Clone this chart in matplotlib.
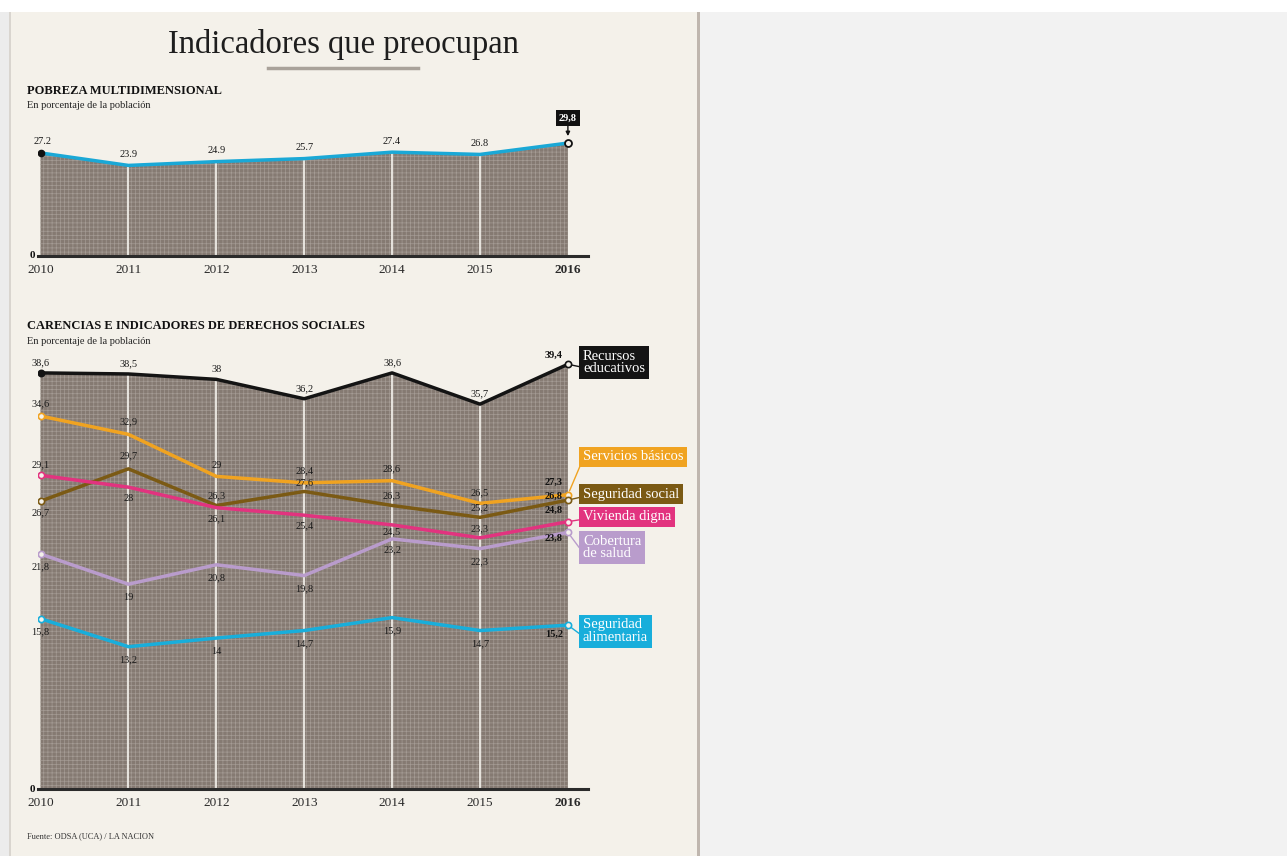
import numpy as np
import matplotlib.pyplot as plt
from matplotlib.patches import Rectangle
from matplotlib.lines import Line2D

plt.rcParams['font.family'] = ['Liberation Serif', 'DejaVu Serif']

# ---- data ----
years = [2010, 2011, 2012, 2013, 2014, 2015, 2016]
year_labels = ['2010', '2011', '2012', '2013', '2014', '2015', '2016']

pobreza = [27.2, 23.9, 24.9, 25.7, 27.4, 26.8, 29.8]

recursos_educativos = [38.6, 38.5, 38.0, 36.2, 38.6, 35.7, 39.4]
servicios_basicos = [34.6, 32.9, 29.0, 28.4, 28.6, 26.5, 27.3]
seguridad_social = [26.7, 29.7, 26.3, 27.6, 26.3, 25.2, 26.8]
vivienda_digna = [29.1, 28.0, 26.1, 25.4, 24.5, 23.3, 24.8]
cobertura_salud = [21.8, 19.0, 20.8, 19.8, 23.2, 22.3, 23.8]
seguridad_alimentaria = [15.8, 13.2, 14.0, 14.7, 15.9, 14.7, 15.2]

series_names = ['Recursos\neducativos', 'Servicios básicos', 'Seguridad social',
                'Vivienda digna', 'Cobertura\nde salud', 'Seguridad\nalimentaria']

# ---- styles / layout ----
W, H = 1287, 856
BEIGE = '#f4f1ea'
FILL = '#857a72'
HATCH = '#a49b94'
series = [recursos_educativos, servicios_basicos, seguridad_social,
          vivienda_digna, cobertura_salud, seguridad_alimentaria]
colors = ['#141414', '#f0a321', '#7b5a14', '#e2337f', '#b99ccc', '#18aedb']
# label offsets in pixels (positive = up), one per year 2010-2015
label_dy = [
    [10, 10, 10, 10, 10, 10],
    [12, 13, 11, 12, 12, 11],
    [-12, 13, 10, 9, 10, 10],
    [11, -11, -11, -11, -7, 9],
    [-13, -13, -13, -13, -11, -13],
    [-13, -13, -13, -13, -13, -13],
]
last_dy = [9, 12, 4, 11, -6, -9]     # bold 2016 value
box_dy = [2, 38, 6, 5, -15, -6]      # side label boxes

plt.rcParams['hatch.linewidth'] = 0.5


def fx(px):
    return px / W


def fy(py):
    return 1 - py / H


def rect(x0, y0, x1, y1, color):
    return Rectangle((fx(x0), fy(y1)), (x1 - x0) / W, (y1 - y0) / H,
                     transform=fig.transFigure, fc=color, ec='none', zorder=-10)


def fmt(v, sep=','):
    s = f'{v:.1f}'
    if s.endswith('.0'):
        s = s[:-2]
    return s.replace('.', sep)


fig = plt.figure(figsize=(W / 100, H / 100), dpi=100, facecolor='white')
fig.patches.extend([
    rect(0, 12, 9, H, '#ececec'),
    rect(9, 12, 11, H, '#d9d5cf'),
    rect(11, 12, 697, H, BEIGE),
    rect(697, 12, 700, H, '#bfb6ae'),
    rect(700, 12, W, H, '#f2f2f2'),
])

fig.text(fx(343), fy(44), 'Indicadores que preocupan', fontsize=23.5,
         ha='center', va='center', color='#1e1e1e')
fig.add_artist(Line2D([fx(268), fx(418)], [fy(68), fy(68)], lw=2.5,
                      color='#a9a29a', transform=fig.transFigure))

X_LEFT, X_RIGHT = 38, 588
X0, STEP = 40.5, 87.9
xlim = (2010 - (X0 - X_LEFT) / STEP, 2016 + (X_RIGHT - (X0 + 6 * STEP)) / STEP)


def make_axes(top, bottom, px_per_unit):
    ax = fig.add_axes([fx(X_LEFT), fy(bottom), (X_RIGHT - X_LEFT) / W, (bottom - top) / H])
    ax.set_xlim(*xlim)
    ax.set_ylim(0, (bottom - top) / px_per_unit)
    ax.patch.set_visible(False)
    for s in ax.spines.values():
        s.set_visible(False)
    ax.set_yticks([])
    ax.set_xticks(years, year_labels)
    ax.tick_params(axis='x', length=0, pad=6, labelsize=9.5, labelcolor='#2a2a2a')
    ax.get_xticklabels()[-1].set_fontweight('bold')
    ax.axhline(0, color='#2b2b2b', lw=2.2, zorder=5, clip_on=False)
    ax.annotate('0', (xlim[0], 0), xytext=(-3, 0), textcoords='offset pixels',
                ha='right', va='center', fontsize=8, fontweight='bold', color='#111')
    return ax


def draw_fill(ax, top_vals):
    ax.fill_between(years, 0, top_vals, facecolor=FILL, edgecolor=HATCH,
                    hatch='++++', linewidth=0, zorder=1)
    ax.vlines(years[1:-1], 0, top_vals[1:-1], color='#efece6', lw=1.3, zorder=2)


# ---- panel 1: pobreza multidimensional ----
fig.text(fx(27), fy(91), 'POBREZA MULTIDIMENSIONAL', fontsize=9, fontweight='bold',
         va='center', color='#111')
fig.text(fx(27), fy(105), 'En porcentaje de la población', fontsize=7.5,
         va='center', color='#222')

ax1 = make_axes(110, 256, 3.79)
draw_fill(ax1, pobreza)
ax1.plot(years, pobreza, color='#1aa8d6', lw=2.5, zorder=3, solid_capstyle='round')
ax1.plot(years[0], pobreza[0], 'o', ms=4.5, color='#111', zorder=4)
ax1.plot(years[-1], pobreza[-1], 'o', ms=5, mfc=BEIGE, mec='#111', mew=1.3, zorder=4)
for i in range(6):
    ax1.annotate(fmt(pobreza[i], '.'), (years[i], pobreza[i]),
                 xytext=(2 if i == 0 else 0, 11), textcoords='offset pixels',
                 ha='center', va='center', fontsize=7.5, color='#1a1a1a')
ax1.annotate(fmt(pobreza[-1]), (years[-1], pobreza[-1]), xytext=(0, 25),
             textcoords='offset pixels', ha='center', va='center', fontsize=7.5,
             fontweight='bold', color='white',
             bbox=dict(boxstyle='square,pad=0.3', fc='#111', ec='none'),
             arrowprops=dict(arrowstyle='-|>', color='#111', lw=1,
                             shrinkA=0, shrinkB=5, mutation_scale=6))

# ---- panel 2: carencias ----
fig.text(fx(27), fy(326), 'CARENCIAS E INDICADORES DE DERECHOS SOCIALES', fontsize=9,
         fontweight='bold', va='center', color='#111')
fig.text(fx(27), fy(342), 'En porcentaje de la población', fontsize=7.5,
         va='center', color='#222')

ax2 = make_axes(345, 789, 10.78)
draw_fill(ax2, list(np.max(np.array(series), axis=0)))

for k, (vals, col, name) in enumerate(zip(series, colors, series_names)):
    ax2.plot(years, vals, color=col, lw=2.5, zorder=3, solid_capstyle='round')
    first_face = col if k == 0 else BEIGE
    ax2.plot(years[0], vals[0], 'o', ms=4.5, mfc=first_face, mec=col, mew=1.2, zorder=4)
    ax2.plot(years[-1], vals[-1], 'o', ms=4.5, mfc=BEIGE, mec=col, mew=1.2, zorder=4)
    for i in range(6):
        ax2.annotate(fmt(vals[i]), (years[i], vals[i]), xytext=(0, label_dy[k][i]),
                     textcoords='offset pixels', ha='center', va='center',
                     fontsize=7.5, color='#1a1a1a', zorder=6)
    ax2.annotate(fmt(vals[-1]), (years[-1], vals[-1]), xytext=(-5, last_dy[k]),
                 textcoords='offset pixels', ha='right', va='center',
                 fontsize=7.5, fontweight='bold', color='#111', zorder=6)
    ax2.annotate(name, (years[-1], vals[-1]), xytext=(15, box_dy[k]),
                 textcoords='offset pixels', ha='left', va='center',
                 fontsize=10.5, color='white', linespacing=0.95, zorder=6,
                 bbox=dict(boxstyle='square,pad=0.25', fc=col, ec='none'),
                 arrowprops=dict(arrowstyle='-', color=col, lw=1, relpos=(0, 0.3),
                                 shrinkA=0, shrinkB=3))

fig.text(fx(27), fy(836), 'Fuente: ODSA (UCA) / LA NACION', fontsize=6,
         va='center', color='#333')

fig.savefig('out.png', dpi=100, facecolor=fig.get_facecolor())
